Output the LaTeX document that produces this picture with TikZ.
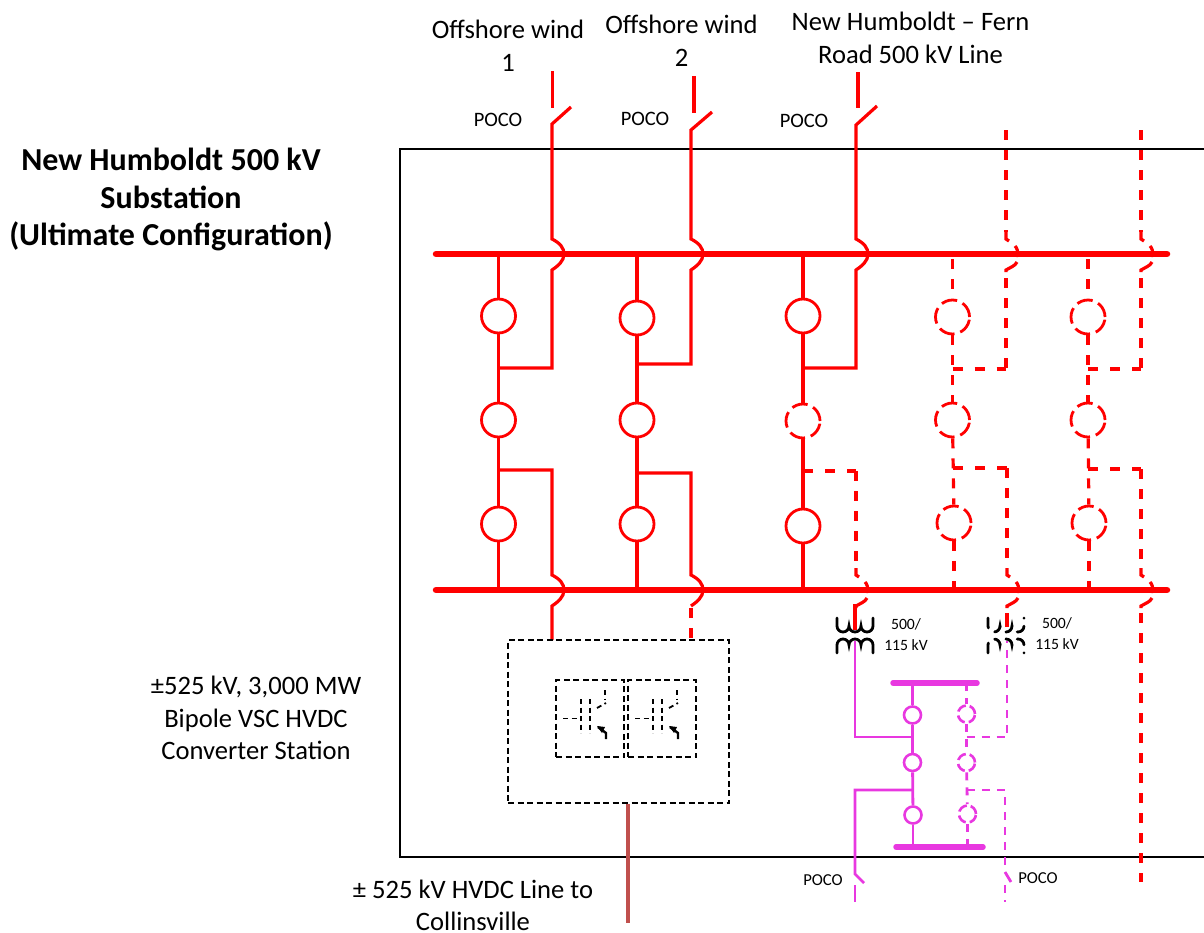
\documentclass[tikz,border=0pt]{standalone}
\usepackage{fontspec}
\setmainfont{Carlito}
\definecolor{rd}{RGB}{255,0,0}
\definecolor{mg}{RGB}{232,56,224}
\definecolor{brn}{RGB}{192,80,77}
\tikzset{
  x=1pt,y=-1pt,
  wire/.style={rd,line width=3.2pt},
  dwire/.style={rd,line width=3.2pt,dash pattern=on 10pt off 10pt},
  bwire/.style={rd,line width=3.2pt,dash pattern=on 10pt off 12pt},
  bus/.style={rd,line width=6.5pt,line cap=round},
  brk/.style={circle,draw=rd,line width=2.8pt,minimum size=34pt,inner sep=0pt},
  dbrk/.style={brk,dash pattern=on 16pt off 6pt},
  mwire/.style={mg,line width=2.8pt},
  dmwire/.style={mg,line width=2.8pt,dash pattern=on 8pt off 7pt},
  mbus/.style={mg,line width=5.5pt,line cap=round},
  mbrk/.style={circle,draw=mg,line width=2.6pt,minimum size=17pt,inner sep=0pt},
  dmbrk/.style={mbrk,dash pattern=on 10pt off 4pt},
  box/.style={draw=black,line width=1.5pt,dash pattern=on 6pt off 3.5pt},
  igbt/.style={black,line width=1.8pt,dash pattern=on 5pt off 3.5pt},
  coil/.style={black,line width=2.8pt,line cap=round},
  dcoil/.style={coil,dash pattern=on 10pt off 8pt},
  hop/.style 2 args={insert path={ -- (#1,#2-15) .. controls (#1+8,#2-11) and (#1+12,#2-6) .. (#1+12,#2) .. controls (#1+12,#2+7) and (#1+6,#2+12) .. (#1,#2+16)}},
  lbl/.style={inner sep=0pt,align=center,text=black},
  big/.style={lbl,font=\fontsize{26.6}{32.5}\selectfont},
  small/.style={lbl,font=\fontsize{20.5}{22}\selectfont},
  tiny/.style={lbl,font=\fontsize{15.7}{21}\selectfont},
  tinyb/.style={lbl,font=\fontsize{16.7}{21}\selectfont},
}
\newcommand\dashhop[2]{%
  \draw[wire] (#1,#2-22) -- (#1,#2-15) -- (#1+3,#2-13);
  \draw[wire] (#1+9,#2-8) .. controls (#1+11,#2-6) and (#1+12,#2-3) .. (#1+12,#2+3);
  \draw[wire] (#1+11,#2+8) .. controls (#1+9,#2+12) and (#1+5,#2+13) .. (#1,#2+16) -- (#1,#2+18);
}
\begin{document}
\begin{tikzpicture}
\useasboundingbox (0,0) rectangle (1204,932);
% substation frame
\coordinate (fTR) at (1204,149); \coordinate (fTL) at (400,149);
\coordinate (fBL) at (400,857); \coordinate (fBR) at (1204,857);
\draw[black,line width=1.3pt] (fTR) -- (fTL) -- (fBL) -- (fBR);
% buses
\coordinate (tb1) at (436,254); \coordinate (tb2) at (1167,254);
\coordinate (bb1) at (436,590); \coordinate (bb2) at (1167,590);
\draw[bus] (tb1) -- (tb2);
\draw[bus] (bb1) -- (bb2);
% breakers
\node[brk] (a1) at (498.5,316) {};
\node[brk] (a2) at (498.5,420) {};
\node[brk] (a3) at (498.5,524) {};
\node[brk] (b1) at (637,318) {};
\node[brk] (b2) at (637,420) {};
\node[brk] (b3) at (637,524) {};
\node[brk] (c1) at (803,316) {};
\node[dbrk] (c2) at (803,421) {};
\node[brk] (c3) at (803,526) {};
\node[dbrk] (d1) at (952.5,317) {};
\node[dbrk] (d2) at (952.5,420) {};
\node[dbrk] (d3) at (954,523) {};
\node[dbrk] (e1) at (1088,317) {};
\node[dbrk] (e2) at (1088,420) {};
\node[dbrk] (e3) at (1089,523) {};
% vertical strings
\draw[wire] (tb1 -| a1) -- (a1); \draw[wire] (a1) -- (a2); \draw[wire] (a2) -- (a3); \draw[wire] (a3) -- (a3 |- bb1);
\draw[wire] (tb1 -| b1) -- (b1); \draw[wire] (b1) -- (b2); \draw[wire] (b2) -- (b3); \draw[wire] (b3) -- (b3 |- bb1);
\draw[wire] (tb1 -| c1) -- (c1); \draw[wire] (c1) -- (c2); \draw[wire] (c2) -- (c3); \draw[wire] (c3) -- (c3 |- bb1);
\draw[dwire] (tb1 -| d1) ++(0,5) -- (d1); \draw[dwire] (d1) -- (d2); \draw[dwire] (d2) -- (d3); \draw[dwire] (d3) -- (d3 |- bb1);
\draw[dwire] (tb1 -| e1) ++(0,5) -- (e1); \draw[dwire] (e1) -- (e2); \draw[dwire] (e2) -- (e3); \draw[dwire] (e3) -- (e3 |- bb1);
% named points on the strings
\coordinate (ja1) at (498.5,368); \coordinate (ja2) at (498.5,470);
\coordinate (jb1) at (637,364); \coordinate (jb2) at (637,473);
\coordinate (jc1) at (803,368); \coordinate (jc2) at (803,471);
\coordinate (jd1) at (952.5,369); \coordinate (jd2) at (953,468);
\coordinate (je1) at (1088,369); \coordinate (je2) at (1088,469);
\coordinate (cd1) at (1006,369); \coordinate (ce1) at (1141,369);
\coordinate (cc2) at (856,471); \coordinate (cd2) at (1007,468); \coordinate (ce2) at (1141,469);
% feeder 1
\coordinate (s1a) at (552.5,71); \coordinate (s1b) at (552.5,108);
\coordinate (s1c) at (571,107); \coordinate (s1d) at (552,124);
\draw[wire] (s1a) -- (s1b);
\draw[wire] (s1c) -- (s1d) [hop={552}{254}] -- (552,368) -- (ja1);
\draw[wire] (ja2) -- (552,470) [hop={552}{590}] -- (552,640);
% feeder 2
\coordinate (s2a) at (694,76); \coordinate (s2b) at (694,113);
\coordinate (s2c) at (712,112); \coordinate (s2d) at (691,130);
\draw[wire] (s2a) -- (s2b);
\draw[wire] (s2c) -- (s2d) [hop={691}{254}] -- (691,364) -- (jb1);
\draw[wire] (jb2) -- (691,473) [hop={691}{590}];
\draw[dwire] (691,608) -- (691,640);
% feeder 3
\coordinate (s3a) at (858,72); \coordinate (s3b) at (858,108);
\coordinate (s3c) at (877,106); \coordinate (s3d) at (856,125);
\draw[wire] (s3a) -- (s3b);
\draw[wire] (s3c) -- (s3d) [hop={856}{254}] -- (856,368) -- (jc1);
\draw[bwire] (jc2) -- (cc2);
\draw[dwire] (cc2) -- (856,568);
\dashhop{856}{590}
\draw[wire] (855,604) -- (855,630);
% dashed feeders
\coordinate (td4) at (1006,130); \coordinate (td5) at (1141,130);
\draw[dwire] (td4) -- (1006,232);
\draw[dwire] (td5) -- (1141,232);
\dashhop{1006}{254}
\dashhop{1141}{254}
\draw[dwire] (1006,278) -- (cd1);
\draw[dwire] (1141,278) -- (ce1);
\draw[bwire] (jd1) -- (cd1);
\draw[bwire] (je1) -- (ce1);
\draw[bwire] (jd2) -- (cd2);
\draw[bwire] (je2) -- (ce2);
\draw[dwire] (cd2) -- (1007,568);
\draw[dwire] (ce2) -- (1141,568);
\dashhop{1007}{590}
\dashhop{1141}{590}
\draw[dwire] (1141,613) -- (1141,882);
% transformers
\draw[coil] (837,618) -- (837,626) arc[start angle=180,end angle=0,radius=6] arc[start angle=180,end angle=0,radius=6] arc[start angle=180,end angle=0,radius=6] -- (873,618);
\draw[coil] (837,653) -- (837,645) arc[start angle=180,end angle=360,radius=6] arc[start angle=180,end angle=360,radius=6] arc[start angle=180,end angle=360,radius=6] -- (873,653);
\draw[dcoil] (988,618) -- (988,626) arc[start angle=180,end angle=0,radius=6] arc[start angle=180,end angle=0,radius=6] arc[start angle=180,end angle=0,radius=6] -- (1024,618);
\draw[dcoil] (988,653) -- (988,645) arc[start angle=180,end angle=360,radius=6] arc[start angle=180,end angle=360,radius=6] arc[start angle=180,end angle=360,radius=6] -- (1024,653);
\draw[wire] (1007,613) -- (1007,627);
% 115 kV yard
\coordinate (mt1) at (893,683); \coordinate (mt2) at (977,683);
\coordinate (mb1) at (896,847); \coordinate (mb2) at (983,847);
\draw[mbus] (mt1) -- (mt2);
\draw[mbus] (mb1) -- (mb2);
\node[mbrk] (m1) at (912.5,715) {};
\node[mbrk] (m2) at (912.5,762.5) {};
\node[mbrk] (m3) at (913,815) {};
\node[dmbrk] (n1) at (966.5,714) {};
\node[dmbrk] (n2) at (966.5,762.5) {};
\node[dmbrk] (n3) at (967.5,814) {};
\draw[mwire] (mt1 -| m1) -- (m1); \draw[mwire] (m1) -- (m2); \draw[mwire] (m2) -- (m3); \draw[mwire] (m3) -- (mb1 -| m3);
\draw[dmwire] (mt1 -| n1) -- (n1); \draw[dmwire] (n1) -- (n2); \draw[dmwire] (n2) -- (n3); \draw[dmwire] (n3) -- (mb1 -| n3);
\coordinate (jm1) at (912.5,737); \coordinate (jm2) at (913,790);
\coordinate (jn1) at (966.5,737); \coordinate (jn2) at (967,790);
\draw[mwire] (855,641) -- (855,737) -- (jm1);
\draw[mwire] (jm2) -- (855,790) -- (855,874) -- (864,883);
\draw[mwire] (855,885) -- (855,902);
\draw[dmwire] (jn1) -- (1007,737) -- (1007,641);
\draw[dmwire] (jn2) -- (1005,790) -- (1005,872);
\draw[mwire] (1005,872) -- (1011,882);
\draw[dmwire] (1005,885) -- (1005,902);
% converter station
\node[box,minimum width=221pt,minimum height=163pt,inner sep=0pt] (hv) at (618.5,721.5) {};
\node[box,minimum width=68pt,minimum height=77pt,inner sep=0pt] (v1) at (590,718.5) {};
\node[box,minimum width=68pt,minimum height=77pt,inner sep=0pt] (v2) at (662,718.5) {};
\foreach \dx in {0,72}{
  \begin{scope}[xshift=\dx pt]
  \draw[igbt] (563,718.5) -- (581,718.5);
  \draw[igbt] (581,699) -- (581,733);
  \draw[igbt] (590,699) -- (590,733);
  \draw[igbt] (597,708) -- (606,703);
  \draw[igbt] (605,690) -- (605,699);
  \draw[black,line width=2.4pt] (606,739) -- (606,733) -- (598,727);
  \fill[black] (597,726) -- (605,727) -- (602,733) -- cycle;
  \end{scope}
}
\coordinate (dc) at (628,923);
\draw[brn,line width=3.6pt] (hv.south -| dc) -- (dc);
% labels
\node[big] (t1) at (508,46) {Offshore wind\\1};
\node[big] (t2) at (681.5,41) {Offshore wind\\2};
\node[big] (t3) at (910.5,38) {New Humboldt – Fern\\Road 500 kV Line};
\node[small] (p1) at (498,120) {POCO};
\node[small] (p2) at (645,119) {POCO};
\node[small] (p3) at (804,121) {POCO};
\node[lbl,font=\fontsize{32}{37.5}\selectfont\bfseries] (ttl) at (171,199.5) {New Humboldt 500 kV\\Substation\\(Ultimate Configuration)};
\node[big] (conv) at (256,718) {±525 kV, 3,000 MW\\Bipole VSC HVDC\\Converter Station};
\node[big] (dcl) at (473,905.5) {± 525 kV HVDC Line to\\Collinsville};
\node[tiny] (k1) at (906,635) {500/\\115 kV};
\node[tiny] (k2) at (1057,633.5) {500/\\115 kV};
\node[tinyb] (p4) at (823,880) {POCO};
\node[tinyb] (p5) at (1038,878) {POCO};
\end{tikzpicture}
\end{document}
